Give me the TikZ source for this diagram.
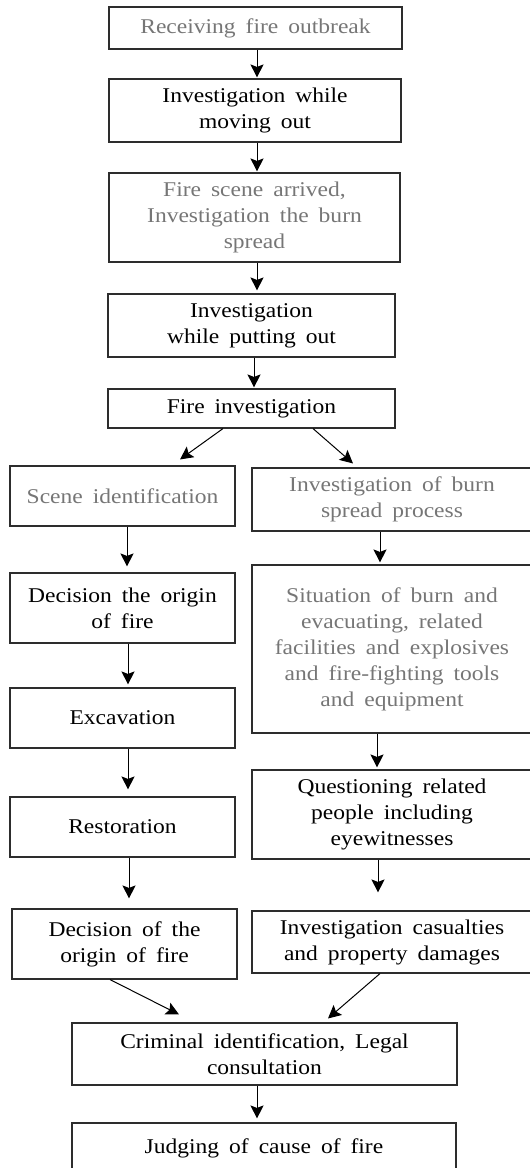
\documentclass[tikz,border=0pt]{standalone}
\usepackage{fontspec}
\setmainfont{Liberation Serif}[FakeStretch=1.12]
\usetikzlibrary{arrows.meta}
\definecolor{txtgray}{RGB}{118,118,118}
\definecolor{edge}{RGB}{45,45,45}
\newcommand\myboxfont{\fontsize{21}{26}\selectfont\spaceskip=10pt plus 2pt minus 2pt\relax}
\tikzset{
  box/.style={draw=edge, line width=1.1pt, rectangle, align=center, inner sep=2pt,
    font=\myboxfont},
  graytext/.style={text=txtgray},
  arr/.style={draw=black, line width=1pt, -{Stealth[length=13pt,width=13pt,inset=2.5pt]}}
}
\begin{document}
\begin{tikzpicture}[x=1pt,y=-1pt]
\useasboundingbox (0,0) rectangle (530,1168);
\clip (0,0) rectangle (530,1168);
\node[box,graytext,minimum width=293pt,minimum height=42pt] (n1) at (255.5,28) {Receiving fire outbreak};
\node[box,minimum width=292pt,minimum height=63pt] (n2) at (255,110.5) {Investigation while\\moving out};
\node[box,graytext,minimum width=291pt,minimum height=89pt] (n3) at (254.5,217.5) {Fire scene arrived,\\Investigation the burn\\spread};
\node[box,minimum width=287pt,minimum height=63pt] (n4) at (251.5,325.5) {Investigation\\while putting out};
\node[box,minimum width=287pt,minimum height=39pt] (n5) at (251.5,408.5) {Fire investigation};
\node[box,graytext,minimum width=225pt,minimum height=60pt] (n6) at (122.5,496) {Scene identification};
\node[box,graytext,minimum width=280pt,minimum height=63pt] (n7) at (392,499.5) {Investigation of burn\\spread process};
\node[box,minimum width=225pt,minimum height=70pt] (n8) at (122.5,608) {Decision the origin\\of fire};
\node[box,graytext,minimum width=280pt,minimum height=168pt] (n9) at (392,649) {Situation of burn and\\evacuating, related\\facilities and explosives\\and fire-fighting tools\\and equipment};
\node[box,minimum width=225pt,minimum height=60pt] (n10) at (122.5,718) {Excavation};
\node[box,minimum width=225pt,minimum height=60pt] (n11) at (122.5,827) {Restoration};
\node[box,minimum width=280pt,minimum height=89pt] (n12) at (392,814.5) {Questioning related\\people including\\eyewitnesses};
\node[box,minimum width=225pt,minimum height=70pt] (n13) at (124.5,944) {Decision of the\\origin of fire};
\node[box,minimum width=280pt,minimum height=62pt] (n14) at (392,942) {Investigation casualties\\and property damages};
\node[box,minimum width=385pt,minimum height=62pt] (n15) at (264.5,1054) {Criminal identification, Legal\\consultation};
\node[box,minimum width=384pt,minimum height=50pt] (n16) at (264,1148) {Judging of cause of fire};
% vertical arrows
\draw[arr,shorten >=1pt] ([xshift=1.5pt]n1.south) -- ([xshift=1.5pt]n1.south |- n2.north);
\draw[arr,shorten >=1pt] ([xshift=2pt]n2.south) -- ([xshift=2pt]n2.south |- n3.north);
\draw[arr,shorten >=3pt] ([xshift=2.5pt]n3.south) -- ([xshift=2.5pt]n3.south |- n4.north);
\draw[arr,shorten >=1pt] ([xshift=2.5pt]n4.south) -- ([xshift=2.5pt]n4.south |- n5.north);
\draw[arr,shorten >=6pt] ([xshift=4.5pt]n6.south) -- ([xshift=4.5pt]n6.south |- n8.north);
\draw[arr,shorten >=3pt] ([xshift=5.5pt]n8.south) -- ([xshift=5.5pt]n8.south |- n10.north);
\draw[arr,shorten >=7pt] ([xshift=5.5pt]n10.south) -- ([xshift=5.5pt]n10.south |- n11.north);
\draw[arr,shorten >=10pt] ([xshift=6.5pt]n11.south) -- ([xshift=6.5pt]n11.south |- n13.north);
\draw[arr,shorten >=2pt] ([xshift=-12pt]n7.south) -- ([xshift=-12pt]n7.south |- n9.north);
\draw[arr,shorten >=2pt] ([xshift=-15pt]n9.south) -- ([xshift=-15pt]n9.south |- n12.north);
\draw[arr,shorten >=18pt] ([xshift=-14pt]n12.south) -- ([xshift=-14pt]n12.south |- n14.north);
\draw[arr,shorten >=4pt] ([xshift=-7.5pt]n15.south) -- ([xshift=-7.5pt]n15.south |- n16.north);
% diagonal arrows
\draw[arr] ([xshift=-28.5pt]n5.south) -- ([xshift=57.5pt,yshift=6pt]n6.north);
\draw[arr] ([xshift=61.5pt]n5.south) -- ([xshift=-39pt,yshift=4pt]n7.north);
\draw[arr] ([xshift=-14.5pt]n13.south) -- ([xshift=-85.5pt,yshift=8pt]n15.north);
\draw[arr] ([xshift=-12pt]n14.south) -- ([xshift=63.5pt,yshift=4pt]n15.north);
\end{tikzpicture}
\end{document}
